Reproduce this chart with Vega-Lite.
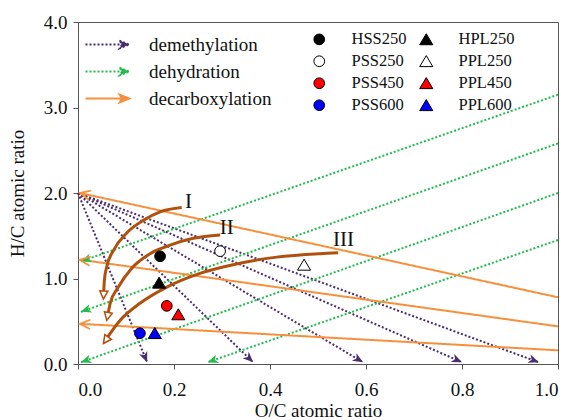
{
  "$schema": "https://vega.github.io/schema/vega-lite/v6.json",
  "width": 480,
  "height": 342,
  "autosize": {"type": "none"},
  "padding": {"left": 78, "top": 22, "right": 14, "bottom": 56},
  "background": "white",
  "config": {
    "font": "Liberation Serif",
    "view": {"stroke": "#555555", "strokeWidth": 1},
    "axis": {
      "grid": false,
      "domainColor": "#555555",
      "tickColor": "#555555",
      "tickSize": 5,
      "labelFont": "Liberation Serif",
      "titleFont": "Liberation Serif",
      "labelFontSize": 19,
      "titleFontSize": 19,
      "titleFontWeight": "normal",
      "labelColor": "#111111",
      "titleColor": "#111111"
    }
  },
  "datasets": {
    "arrows": [
      {"type": "demethylation", "x": 0, "y": 2.0, "x2": 0.144, "y2": 0.02},
      {"type": "demethylation", "x": 0, "y": 2.0, "x2": 0.365, "y2": 0.02},
      {"type": "demethylation", "x": 0, "y": 2.0, "x2": 0.594, "y2": 0.02},
      {"type": "demethylation", "x": 0, "y": 2.0, "x2": 0.80, "y2": 0.02},
      {"type": "demethylation", "x": 0, "y": 2.0, "x2": 0.96, "y2": 0.02},
      {"type": "dehydration", "x": 1.0, "y": 3.15, "x2": 0.006, "y2": 1.2},
      {"type": "dehydration", "x": 1.0, "y": 2.58, "x2": 0.006, "y2": 0.61},
      {"type": "dehydration", "x": 1.0, "y": 2.0, "x2": 0.006, "y2": 0.02},
      {"type": "dehydration", "x": 1.0, "y": 1.45, "x2": 0.27, "y2": 0.02},
      {"type": "decarboxylation", "x": 1.0, "y": 0.78, "x2": 0.004, "y2": 2.0},
      {"type": "decarboxylation", "x": 1.0, "y": 0.44, "x2": 0.004, "y2": 1.22},
      {"type": "decarboxylation", "x": 1.0, "y": 0.16, "x2": 0.004, "y2": 0.47}
    ],
    "curves": [
      {"curve": "I", "i": 1, "x": 0.216, "y": 1.83},
      {"curve": "I", "i": 2, "x": 0.171, "y": 1.78},
      {"curve": "I", "i": 3, "x": 0.136, "y": 1.68},
      {"curve": "I", "i": 4, "x": 0.101, "y": 1.53},
      {"curve": "I", "i": 5, "x": 0.074, "y": 1.33},
      {"curve": "I", "i": 6, "x": 0.06, "y": 1.14},
      {"curve": "I", "i": 7, "x": 0.055, "y": 0.98},
      {"curve": "I", "i": 8, "x": 0.053, "y": 0.78},
      {"curve": "II", "i": 1, "x": 0.296, "y": 1.51},
      {"curve": "II", "i": 2, "x": 0.24, "y": 1.47},
      {"curve": "II", "i": 3, "x": 0.192, "y": 1.39},
      {"curve": "II", "i": 4, "x": 0.15, "y": 1.29},
      {"curve": "II", "i": 5, "x": 0.112, "y": 1.12},
      {"curve": "II", "i": 6, "x": 0.084, "y": 0.90},
      {"curve": "II", "i": 7, "x": 0.067, "y": 0.71},
      {"curve": "II", "i": 8, "x": 0.061, "y": 0.53},
      {"curve": "III", "i": 1, "x": 0.542, "y": 1.30},
      {"curve": "III", "i": 2, "x": 0.504, "y": 1.29},
      {"curve": "III", "i": 3, "x": 0.414, "y": 1.25},
      {"curve": "III", "i": 4, "x": 0.33, "y": 1.17},
      {"curve": "III", "i": 5, "x": 0.254, "y": 1.06},
      {"curve": "III", "i": 6, "x": 0.185, "y": 0.90},
      {"curve": "III", "i": 7, "x": 0.129, "y": 0.71},
      {"curve": "III", "i": 8, "x": 0.0875, "y": 0.51},
      {"curve": "III", "i": 9, "x": 0.055, "y": 0.26}
    ],
    "tips": [
      {"curve": "I", "x": 0.053, "y": 0.76, "xp": 0.055, "yp": 0.98},
      {"curve": "II", "x": 0.06, "y": 0.51, "xp": 0.067, "yp": 0.71},
      {"curve": "III", "x": 0.053, "y": 0.24, "xp": 0.0875, "yp": 0.51}
    ],
    "labels": [
      {"text": "I", "x": 0.23, "y": 1.90},
      {"text": "II", "x": 0.31, "y": 1.59},
      {"text": "III", "x": 0.553, "y": 1.45}
    ],
    "samples": [
      {"sample": "HSS250", "x": 0.171, "y": 1.26},
      {"sample": "PSS250", "x": 0.296, "y": 1.32},
      {"sample": "PSS450", "x": 0.185, "y": 0.68},
      {"sample": "PSS600", "x": 0.129, "y": 0.36},
      {"sample": "HPL250", "x": 0.169, "y": 0.95},
      {"sample": "PPL250", "x": 0.471, "y": 1.16},
      {"sample": "PPL450", "x": 0.209, "y": 0.58},
      {"sample": "PPL600", "x": 0.16, "y": 0.36}
    ]
  },
  "layer": [
    {
      "data": {"name": "arrows"},
      "mark": {"type": "rule", "strokeWidth": 2},
      "encoding": {
        "x": {"field": "x", "type": "quantitative", "title": "O/C atomic ratio",
              "scale": {"domain": [0, 1], "nice": false},
              "axis": {"values": [0, 0.2, 0.4, 0.6, 0.8, 1.0], "format": ".1f", "labelPadding": 11, "titlePadding": 2}},
        "y": {"field": "y", "type": "quantitative", "title": "H/C atomic ratio",
              "scale": {"domain": [0, 4], "nice": false},
              "axis": {"values": [0, 1, 2, 3, 4], "format": ".1f", "labelPadding": 6, "titlePadding": 16}},
        "x2": {"field": "x2"},
        "y2": {"field": "y2"},
        "color": {
          "field": "type", "type": "nominal",
          "scale": {"domain": ["demethylation", "dehydration", "decarboxylation"], "range": ["#4A2D6E", "#22BB4C", "#F7903C"]},
          "legend": {
            "title": null, "orient": "none", "legendX": 3, "legendY": 13, "padding": 0,
            "symbolType": "M-1,0L7.1,0M5.8,-0.8L7.8,0L5.8,0.8L6.3,0Z",
            "symbolSize": 100, "symbolStrokeWidth": 1.8,
            "labelFont": "Liberation Serif", "labelFontSize": 19, "labelColor": "#111111",
            "labelOffset": 49, "rowPadding": 7,
            "encode": {"symbols": {"update": {"fill": {"signal": "datum.value === 'decarboxylation' ? 'transparent' : scale('color', datum.value)"}}}}
          }
        },
        "strokeDash": {
          "field": "type", "type": "nominal",
          "scale": {"domain": ["demethylation", "dehydration", "decarboxylation"], "range": [[2, 2], [2, 2], [1, 0]]}
        }
      }
    },
    {
      "data": {"name": "arrows"},
      "transform": [
        {"filter": "datum.type !== 'decarboxylation'"},
        {"calculate": "atan2(-(datum.y2 - datum.y) * 85.5, (datum.x2 - datum.x) * 480) * 180 / PI", "as": "ang"}
      ],
      "mark": {"type": "point", "shape": "M0,0L-1,-0.42L-0.72,0L-1,0.42Z", "filled": true, "opacity": 1, "size": 440, "strokeWidth": 0},
      "encoding": {
        "x": {"field": "x2", "type": "quantitative", "title": "O/C atomic ratio"},
        "y": {"field": "y2", "type": "quantitative", "title": "H/C atomic ratio"},
        "color": {"field": "type", "type": "nominal", "legend": null},
        "angle": {"field": "ang", "type": "quantitative", "scale": null}
      }
    },
    {
      "data": {"name": "arrows"},
      "transform": [
        {"filter": "datum.type === 'decarboxylation'"},
        {"calculate": "atan2(-(datum.y2 - datum.y) * 85.5, (datum.x2 - datum.x) * 480) * 180 / PI", "as": "ang"}
      ],
      "mark": {"type": "point", "shape": "M-1,-0.45L0,0L-1,0.45", "filled": false, "opacity": 1, "size": 420, "strokeWidth": 1.8},
      "encoding": {
        "x": {"field": "x2", "type": "quantitative", "title": "O/C atomic ratio"},
        "y": {"field": "y2", "type": "quantitative", "title": "H/C atomic ratio"},
        "color": {"field": "type", "type": "nominal", "legend": null},
        "angle": {"field": "ang", "type": "quantitative", "scale": null}
      }
    },
    {
      "data": {"name": "curves"},
      "mark": {"type": "line", "color": "#B0500E", "strokeWidth": 3, "interpolate": "monotone"},
      "encoding": {
        "x": {"field": "x", "type": "quantitative", "title": "O/C atomic ratio"},
        "y": {"field": "y", "type": "quantitative", "title": "H/C atomic ratio"},
        "detail": {"field": "curve", "type": "nominal"},
        "order": {"field": "i", "type": "quantitative"}
      }
    },
    {
      "data": {"name": "tips"},
      "transform": [
        {"calculate": "atan2(-(datum.y - datum.yp) * 85.5, (datum.x - datum.xp) * 480) * 180 / PI", "as": "ang"}
      ],
      "mark": {"type": "point", "shape": "M0,0L-1,-0.5L-1,0.5Z", "filled": true, "fill": "white", "stroke": "#B0500E", "strokeWidth": 1.5, "opacity": 1, "size": 260},
      "encoding": {
        "x": {"field": "x", "type": "quantitative", "title": "O/C atomic ratio"},
        "y": {"field": "y", "type": "quantitative", "title": "H/C atomic ratio"},
        "angle": {"field": "ang", "type": "quantitative", "scale": null}
      }
    },
    {
      "data": {"name": "labels"},
      "mark": {"type": "text", "font": "Liberation Serif", "fontSize": 21, "color": "#111111"},
      "encoding": {
        "x": {"field": "x", "type": "quantitative", "title": "O/C atomic ratio"},
        "y": {"field": "y", "type": "quantitative", "title": "H/C atomic ratio"},
        "text": {"field": "text"}
      }
    },
    {
      "data": {"name": "samples"},
      "mark": {"type": "point", "filled": true, "stroke": "black", "strokeWidth": 1, "opacity": 1, "size": 115},
      "encoding": {
        "x": {"field": "x", "type": "quantitative", "title": "O/C atomic ratio"},
        "y": {"field": "y", "type": "quantitative", "title": "H/C atomic ratio"},
        "fill": {
          "field": "sample", "type": "nominal",
          "scale": {"domain": ["HSS250", "PSS250", "PSS450", "PSS600", "HPL250", "PPL250", "PPL450", "PPL600"],
                    "range": ["black", "white", "#FF0000", "#0000FF", "black", "white", "#FF0000", "#0000FF"]},
          "legend": {
            "title": null, "orient": "none", "legendX": 233, "legendY": 9, "padding": 0,
            "columns": 2, "columnPadding": 10, "rowPadding": 5,
            "symbolSize": 115, "symbolStrokeColor": "black", "symbolStrokeWidth": 1,
            "labelFont": "Liberation Serif", "labelFontSize": 16.5, "labelColor": "#111111", "labelOffset": 24
          }
        },
        "shape": {
          "field": "sample", "type": "nominal",
          "scale": {"domain": ["HSS250", "PSS250", "PSS450", "PSS600", "HPL250", "PPL250", "PPL450", "PPL600"],
                    "range": ["circle", "circle", "circle", "circle", "M0,-1.05L1.22,1L-1.22,1Z", "M0,-1.05L1.22,1L-1.22,1Z", "M0,-1.05L1.22,1L-1.22,1Z", "M0,-1.05L1.22,1L-1.22,1Z"]}
        }
      }
    }
  ]
}
